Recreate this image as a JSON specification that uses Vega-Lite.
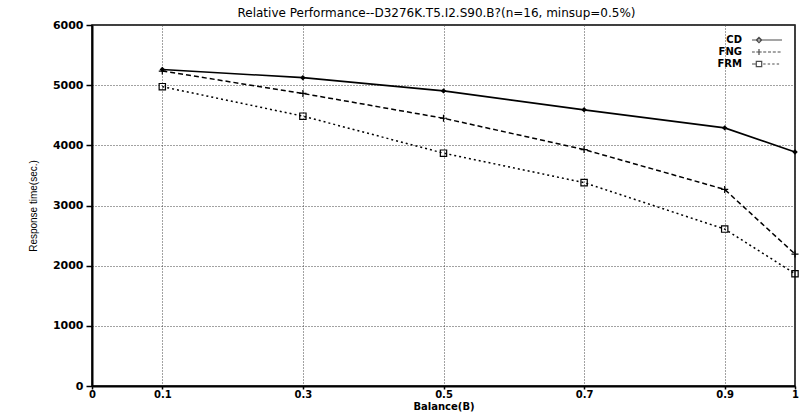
{
  "$schema": "https://vega.github.io/schema/vega-lite/v6.json",
  "autosize": {"type": "none"},
  "padding": {"left": 92, "top": 25, "right": 7, "bottom": 31},
  "width": 703,
  "height": 361,
  "background": "white",
  "title": {
    "text": "Relative Performance--D3276K.T5.I2.S90.B?(n=16, minsup=0.5%)",
    "font": "DejaVu Sans",
    "fontSize": 12,
    "fontWeight": "normal",
    "color": "black",
    "anchor": "middle",
    "dx": -7,
    "offset": -1
  },
  "data": {
    "values": [
      {"B": 0.1, "time": 5260, "series": "CD"},
      {"B": 0.3, "time": 5125, "series": "CD"},
      {"B": 0.5, "time": 4905, "series": "CD"},
      {"B": 0.7, "time": 4590, "series": "CD"},
      {"B": 0.9, "time": 4290, "series": "CD"},
      {"B": 1.0, "time": 3890, "series": "CD"},
      {"B": 0.1, "time": 5235, "series": "FNG"},
      {"B": 0.3, "time": 4862, "series": "FNG"},
      {"B": 0.5, "time": 4450, "series": "FNG"},
      {"B": 0.7, "time": 3930, "series": "FNG"},
      {"B": 0.9, "time": 3267, "series": "FNG"},
      {"B": 1.0, "time": 2193, "series": "FNG"},
      {"B": 0.1, "time": 4975, "series": "FRM"},
      {"B": 0.3, "time": 4485, "series": "FRM"},
      {"B": 0.5, "time": 3870, "series": "FRM"},
      {"B": 0.7, "time": 3380, "series": "FRM"},
      {"B": 0.9, "time": 2608, "series": "FRM"},
      {"B": 1.0, "time": 1866, "series": "FRM"}
    ]
  },
  "config": {
    "view": {"stroke": "black", "strokeWidth": 1.5},
    "axis": {
      "domainColor": "black",
      "domainWidth": 2,
      "tickColor": "black",
      "tickWidth": 1.5,
      "gridColor": "#444444",
      "gridDash": [1, 2],
      "gridWidth": 1,
      "labelColor": "black",
      "labelFont": "DejaVu Sans",
      "labelFontSize": 11,
      "labelFontWeight": "bold",
      "titleColor": "black"
    }
  },
  "encoding": {
    "x": {
      "field": "B",
      "type": "quantitative",
      "scale": {"domain": [0, 1], "nice": false, "zero": false},
      "axis": {
        "title": "Balance(B)",
        "values": [0, 0.1, 0.3, 0.5, 0.7, 0.9, 1],
        "format": "~g",
        "labelFlush": false,
        "labelOverlap": false,
        "tickSize": 3,
        "labelPadding": 0,
        "labelFontSize": 10,
        "titleFont": "DejaVu Sans",
        "titleFontSize": 10,
        "titleFontWeight": "bold",
        "titlePadding": 2
      }
    },
    "y": {
      "field": "time",
      "type": "quantitative",
      "scale": {"domain": [0, 6000], "nice": false},
      "axis": {
        "title": "Response time(sec.)",
        "values": [0, 1000, 2000, 3000, 4000, 5000, 6000],
        "format": "d",
        "tickSize": 6,
        "labelPadding": 3,
        "titleFont": "Liberation Sans",
        "titleFontSize": 10,
        "titleFontWeight": "normal",
        "titlePadding": 14
      }
    }
  },
  "layer": [
    {
      "transform": [{"filter": "datum.series === 'CD'"}],
      "mark": {
        "type": "line",
        "color": "black",
        "strokeWidth": 1.6,
        "point": {"shape": "diamond", "filled": true, "size": 30, "color": "black"}
      }
    },
    {
      "transform": [{"filter": "datum.series === 'FNG'"}],
      "mark": {
        "type": "line",
        "color": "black",
        "strokeWidth": 1.5,
        "strokeDash": [5, 3],
        "point": {"shape": "M-1,0H1M0,-1V1", "filled": false, "size": 50, "color": "black", "strokeWidth": 1.2}
      }
    },
    {
      "transform": [{"filter": "datum.series === 'FRM'"}],
      "mark": {
        "type": "line",
        "color": "black",
        "strokeWidth": 1.5,
        "strokeDash": [2, 3],
        "point": {"shape": "square", "filled": false, "size": 40, "color": "black", "strokeWidth": 1.2}
      }
    },
    {
      "transform": [{"filter": "datum.B > 5"}],
      "mark": {"type": "point", "filled": false, "color": "black"},
      "encoding": {
        "x": {"value": 0},
        "y": {"value": 0},
        "shape": {
          "field": "series",
          "type": "nominal",
          "scale": {
            "domain": ["CD", "FNG", "FRM"],
            "range": [
              "M-2.33,0H7.67M0,-0.9L0.9,0L0,0.9L-0.9,0Z",
              "M-2.33,0H-1.4M-0.9,0H0.9M0,-1V1M1.4,0H2.4M3,0H4M4.6,0H5.6M6.2,0H7.2",
              "M-2.33,0H-1.1M-0.9,-0.9H0.9V0.9H-0.9ZM1.4,0H2.2M2.9,0H3.7M4.4,0H5.2M5.9,0H6.7"
            ]
          },
          "legend": {
            "title": null,
            "orient": "none",
            "legendX": 662,
            "legendY": 10,
            "padding": 0,
            "symbolOffset": 0,
            "symbolSize": 36,
            "symbolStrokeWidth": 1.2,
            "symbolStrokeColor": "black",
            "symbolFillColor": "transparent",
            "labelAlign": "right",
            "labelOffset": -22,
            "labelFont": "DejaVu Sans",
            "labelFontSize": 10,
            "labelFontWeight": "bold",
            "labelColor": "black",
            "labelLimit": 0,
            "rowPadding": 0
          }
        }
      }
    }
  ]
}
